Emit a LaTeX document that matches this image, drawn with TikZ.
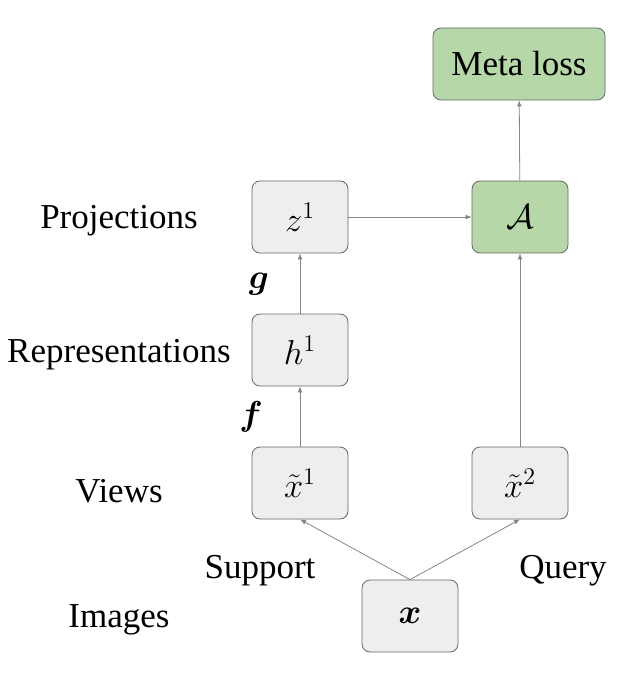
\documentclass[tikz,border=0pt]{standalone}
\usepackage{amsmath}
\usepackage{fontspec}
\setmainfont{Liberation Serif}
\usetikzlibrary{arrows.meta}
\definecolor{boxgray}{HTML}{EEEEEE}
\definecolor{boxgreen}{HTML}{B6D7A8}
\definecolor{edgegray}{HTML}{666666}
\begin{document}
\begin{tikzpicture}[x=0.5pt, y=-0.5pt,
    box/.style={draw=edgegray, rounded corners=4pt, fill=boxgray, minimum width=48pt, minimum height=36pt, font=\fontsize{17.5}{21}\selectfont},
    greenbox/.style={box, fill=boxgreen},
    lbl/.style={font=\fontsize{17.5}{21}\selectfont},
    link/.style={draw=edgegray!80, line width=0.4pt, -{Latex[length=3pt, width=2.4pt]}}]
        \useasboundingbox (0,0) rectangle (625,673);

        % Row labels
        \node[lbl] (lproj) at (119,221) {Projections};
        \node[lbl] (lrep) at (119,355) {Representations};
        \node[lbl] (lview) at (119,491) {Views};
        \node[lbl] (limg) at (119,620) {Images};

        % Boxes
        \node[greenbox, minimum width=86pt] (meta) at (519,64) {Meta loss};
        \node[box] (z1) at (300,217) {$z^1$};
        \node[greenbox] (acal) at (520,217) {$\mathcal{A}$};
        \node[box] (h1) at (300,350) {$h^1$};
        \node[box] (xt1) at (300,483) {$\tilde{x}^1$};
        \node[box] (xt2) at (520,483) {$\tilde{x}^2$};
        \node[box] (img) at (410,616) {$\boldsymbol{x}$};

        % Function names and split labels
        \node[lbl] (gfun) at (259,284) {$\boldsymbol{g}$};
        \node[lbl] (ffun) at (251,417) {$\boldsymbol{f}$};
        \node[lbl] (support) at (260,571) {Support};
        \node[lbl] (query) at (563,571) {Query};

        % Arrows
        \draw[link] (img.north) -- (xt1.south);
        \draw[link] (img.north) -- (xt2.south);
        \draw[link] (xt1) -- (h1);
        \draw[link] (h1) -- (z1);
        \draw[link] (z1) -- (acal);
        \draw[link] (xt2) -- (acal);
        \draw[link] (acal) -- (meta);
    \end{tikzpicture}
\end{document}
